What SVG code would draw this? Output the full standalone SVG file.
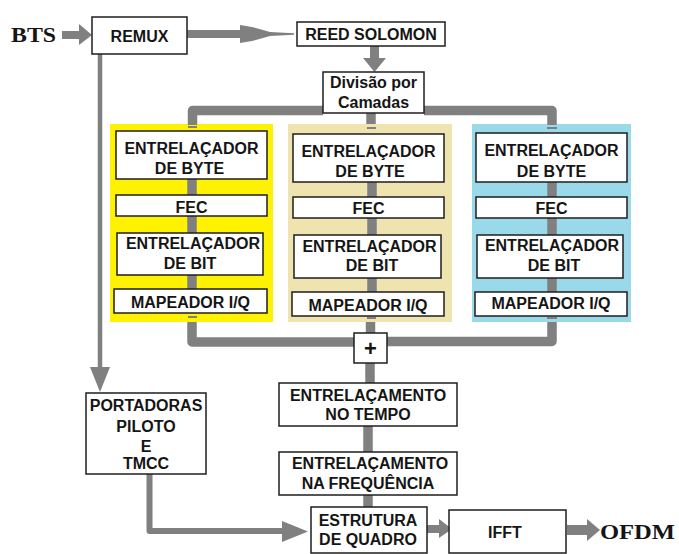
<svg xmlns="http://www.w3.org/2000/svg" width="679" height="554" viewBox="0 0 679 554">
<style>
.box{fill:#fff;stroke:#1e1e1e;stroke-width:1.5}
.t{font-family:"Liberation Sans",Arial,sans-serif;font-weight:bold;font-size:16px;fill:#151515;text-anchor:middle}
.serif{font-family:"Liberation Serif","Times New Roman",serif;font-weight:bold;font-size:22px;fill:#151515}
.c{stroke:#808080;fill:none;stroke-width:9.5;stroke-linejoin:round}
.thin{stroke:#808080;fill:none;stroke-width:4.5}
.ah{fill:#808080}
.tick{fill:#808080}
</style>
<rect width="679" height="554" fill="#fff"/>

<!-- panels -->
<g id="panel-yellow"><rect x="110" y="124" width="163" height="198" fill="#fff200"/></g>
<g id="panel-beige"><rect x="288" y="124" width="164" height="198" fill="#efe4b0"/></g>
<g id="panel-blue"><rect x="472" y="124" width="159" height="198" fill="#99d9ea"/></g>

<g id="connectors">
  <!-- BTS -> REMUX -->
  <rect class="ah" x="62" y="31" width="18" height="8"/>
  <polygon class="ah" points="79,24 92,35 79,45"/>
  <!-- REMUX -> REED -->
  <rect class="ah" x="187" y="30" width="54" height="8"/>
  <polygon class="ah" points="240,25 252,27 270,32 294,33.3 294,34.7 270,36 252,41 240,43"/>
  <!-- REED -> Divisao -->
  <rect class="ah" x="370" y="46" width="9" height="13"/>
  <polygon class="ah" points="363,58 386,58 374.5,72"/>
  <!-- top distribution bar -->
  <path class="c" d="M192.5,125 V110.5 H323"/>
  <path class="c" d="M424,110.5 H552 V125"/>
  <path class="c" d="M371,113 V124"/>
  <!-- inside panels vertical connectors -->
  <path class="c" d="M192,179 V195 M192,216 V233 M192,275 V289"/>
  <path class="c" d="M372,182 V197 M372,218 V235 M372,278 V292"/>
  <path class="c" d="M552,182 V197 M552,218 V235 M552,278 V292"/>
  <!-- ticks -->
  <rect class="tick" x="188" y="126" width="9" height="2"/>
  <rect class="tick" x="367" y="127" width="9" height="2"/>
  <rect class="tick" x="547" y="127" width="10" height="2"/>
  <rect class="tick" x="188" y="316" width="9" height="2"/>
  <rect class="tick" x="367" y="317" width="9" height="2"/>
  <rect class="tick" x="547" y="317" width="10" height="2"/>
  <!-- bottom combining bar -->
  <path class="c" d="M192,322 V342 H354"/>
  <path class="c" d="M387,341.5 H552 V322"/>
  <path class="c" d="M370.5,322 V333"/>
  <!-- chain -->
  <path class="c" d="M370,363 V383"/>
  <path class="c" d="M368,426 V452"/>
  <path class="c" d="M368,495 V507"/>
  <!-- REMUX -> PORTADORAS -->
  <path class="thin" d="M100,54 V368"/>
  <polygon class="ah" points="90,367 110,367 100,392"/>
  <!-- PORTADORAS -> ESTRUTURA -->
  <path class="c" d="M149.5,474 V531 H284" style="stroke-width:6"/>
  <polygon class="ah" points="282,521 308,531.5 282,542"/>
  <!-- ESTRUTURA -> IFFT -->
  <rect class="ah" x="427" y="525" width="13" height="8"/>
  <polygon class="ah" points="439,519 452,529 439,538"/>
  <!-- IFFT -> OFDM -->
  <rect class="ah" x="567" y="525" width="21" height="10"/>
  <polygon class="ah" points="587,519 600,530 587,541"/>
</g>

<g id="bts"><text class="serif" x="11" y="42" textLength="45" lengthAdjust="spacingAndGlyphs">BTS</text></g>
<g id="ofdm"><text class="serif" x="600" y="539" textLength="75" lengthAdjust="spacingAndGlyphs">OFDM</text></g>

<g id="remux"><rect class="box" x="92" y="17" width="95" height="37"/><text class="t" x="139.5" y="41.5">REMUX</text></g>
<g id="reed"><rect class="box" x="297" y="22" width="148" height="24"/><text class="t" x="371" y="40">REED SOLOMON</text></g>
<g id="divisao"><rect class="box" x="323" y="72" width="101" height="41"/><text class="t" x="373.5" y="88">Divisão por</text><text class="t" x="373.5" y="107.5">Camadas</text></g>

<!-- yellow -->
<g id="y-byte"><rect class="box" x="116" y="131" width="151" height="48"/><text class="t" x="191.5" y="153.5">ENTRELAÇADOR</text><text class="t" x="189.5" y="173.5">DE BYTE</text></g>
<g id="y-fec"><rect class="box" x="116" y="195" width="151" height="21"/><text class="t" x="191.5" y="212.5">FEC</text></g>
<g id="y-bit"><rect class="box" x="117" y="233" width="146" height="42"/><text class="t" x="193" y="249">ENTRELAÇADOR</text><text class="t" x="190" y="269">DE BIT</text></g>
<g id="y-map"><rect class="box" x="114" y="289" width="153" height="24"/><text class="t" x="190.5" y="307.5">MAPEADOR I/Q</text></g>

<!-- beige -->
<g id="b-byte"><rect class="box" x="293" y="134" width="151" height="48"/><text class="t" x="368.5" y="156.5">ENTRELAÇADOR</text><text class="t" x="370" y="176.5">DE BYTE</text></g>
<g id="b-fec"><rect class="box" x="293" y="197" width="151" height="21"/><text class="t" x="368.5" y="213.5">FEC</text></g>
<g id="b-bit"><rect class="box" x="294" y="235" width="147" height="43"/><text class="t" x="369.5" y="251.5">ENTRELAÇADOR</text><text class="t" x="372" y="271">DE BIT</text></g>
<g id="b-map"><rect class="box" x="292" y="292" width="152" height="24"/><text class="t" x="368" y="310.5">MAPEADOR I/Q</text></g>

<!-- blue -->
<g id="c-byte"><rect class="box" x="476" y="133" width="151" height="49"/><text class="t" x="551.5" y="155.5">ENTRELAÇADOR</text><text class="t" x="551.5" y="176.5">DE BYTE</text></g>
<g id="c-fec"><rect class="box" x="476" y="197" width="151" height="21"/><text class="t" x="551.5" y="213.5">FEC</text></g>
<g id="c-bit"><rect class="box" x="477" y="235" width="146" height="43"/><text class="t" x="552" y="250.5">ENTRELAÇADOR</text><text class="t" x="554" y="270.5">DE BIT</text></g>
<g id="c-map"><rect class="box" x="475" y="292" width="152" height="24"/><text class="t" x="551" y="308.5">MAPEADOR I/Q</text></g>

<g id="plus"><rect class="box" x="354" y="333" width="33" height="30"/><text class="t" x="370.5" y="356" style="font-size:22px">+</text></g>
<g id="tempo"><rect class="box" x="279" y="383" width="178" height="43"/><text class="t" x="368" y="400.5">ENTRELAÇAMENTO</text><text class="t" x="368" y="419.5">NO TEMPO</text></g>
<g id="freq"><rect class="box" x="279" y="452" width="178" height="43"/><text class="t" x="370" y="468.5">ENTRELAÇAMENTO</text><text class="t" x="368" y="488.5">NA FREQUÊNCIA</text></g>
<g id="portadoras"><rect class="box" x="86" y="393" width="120" height="81"/><text class="t" x="146" y="411">PORTADORAS</text><text class="t" x="146" y="431.5">PILOTO</text><text class="t" x="146" y="451.5">E</text><text class="t" x="146" y="468.5">TMCC</text></g>
<g id="estrutura"><rect class="box" x="311" y="507" width="116" height="46"/><text class="t" x="368" y="525.5">ESTRUTURA</text><text class="t" x="368" y="545">DE QUADRO</text></g>
<g id="ifft"><rect class="box" x="449" y="510" width="117" height="43"/><text class="t" x="505" y="537.5">IFFT</text></g>
</svg>
